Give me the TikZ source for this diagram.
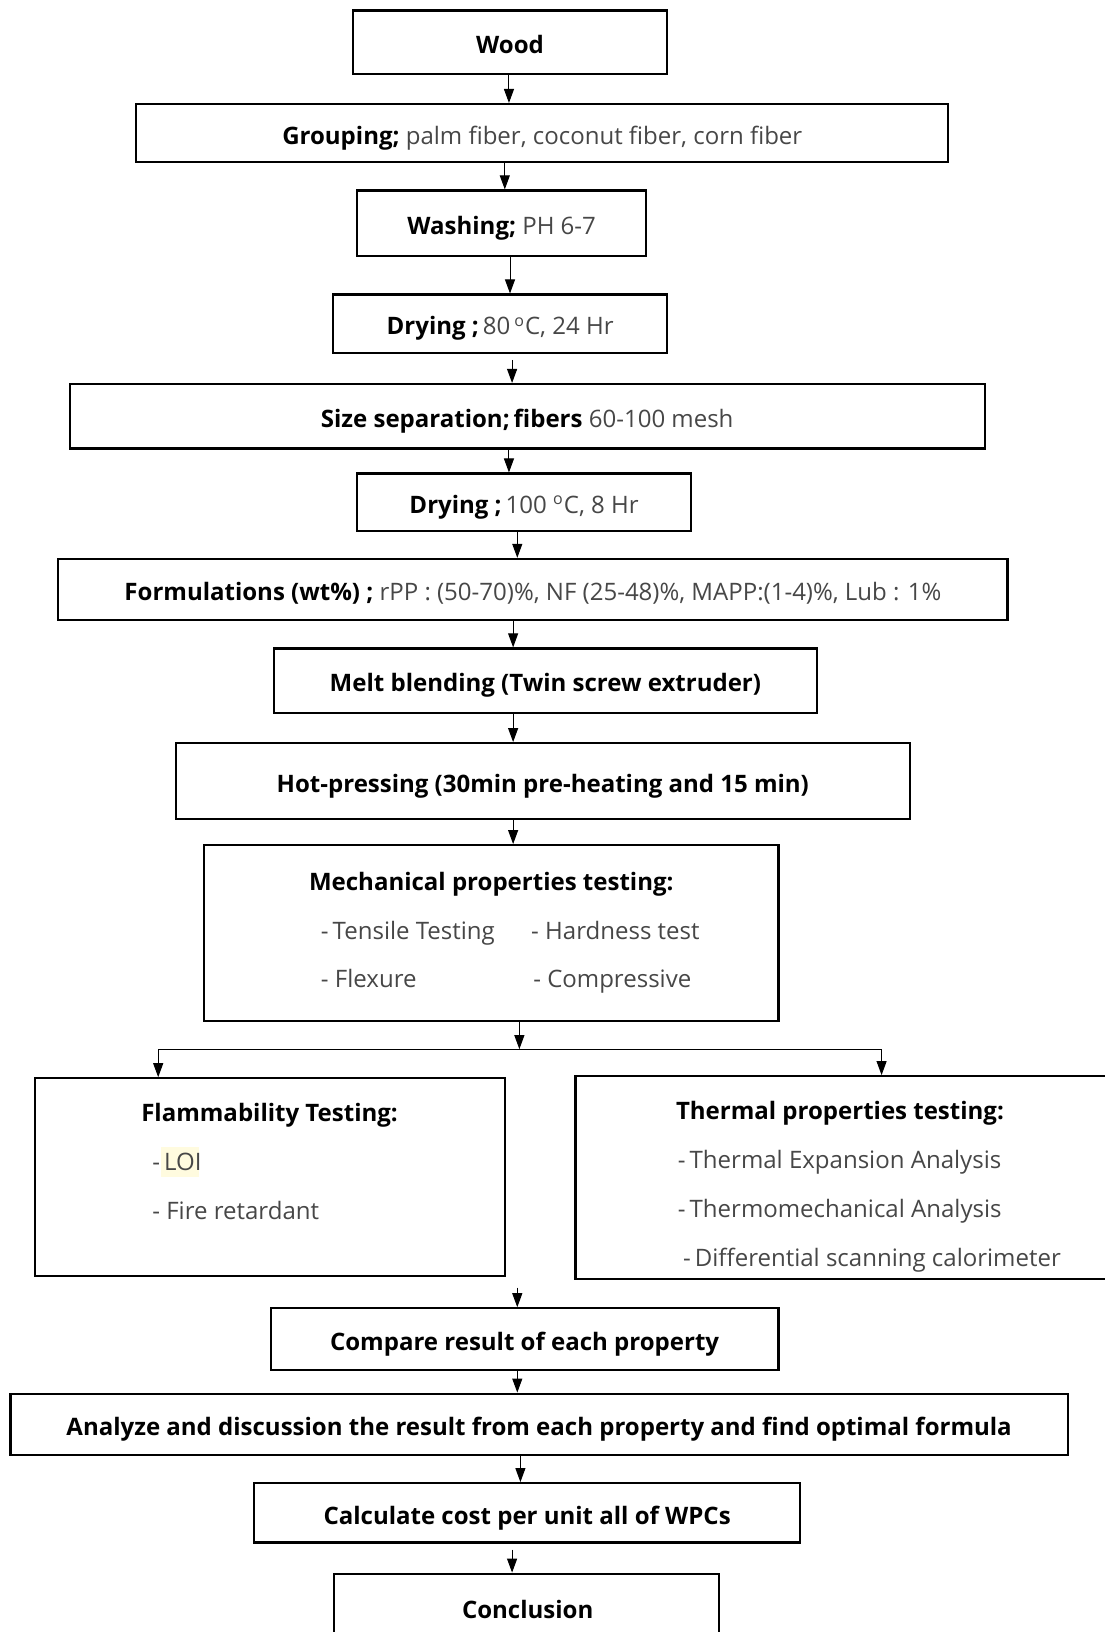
\documentclass[tikz,border=0pt]{standalone}
\usepackage{fontspec}
\setmainfont{Open Sans}
\usetikzlibrary{arrows.meta}
\definecolor{txtgray}{HTML}{474747}
\definecolor{loiyellow}{HTML}{FFFBDF}
\newcommand{\bx}[6][]{%
  \node[box,#1,minimum width={(#4-#2)*0.52pt},minimum height={(#6-#3)*0.52pt}]
    (#5) at ({(#2+#4)/2},{(#3+#6)/2})}
\begin{document}
\begin{tikzpicture}[x=0.52pt,y=-0.52pt,
  txt/.style={font=\fontsize{12}{14}\selectfont,text height=10.6pt,text depth=1.4pt},
  box/.style={draw=black,line width=1.1pt,inner sep=0pt,align=center,
    font=\fontsize{12}{14}\selectfont,text height=12.6pt,text depth=1.4pt,text=txtgray},
  lbl/.style={inner sep=0pt,txt,text=txtgray},
  hd/.style={inner sep=0pt,txt,text=black,font=\fontsize{12}{14}\selectfont\bfseries},
  arr/.style={line width=0.5pt,-{Triangle[length=7pt,width=5pt]}}]
\useasboundingbox (0,0) rectangle (1061,1568);
\fill[white] (0,0) rectangle (1061,1568);
% boxes: \bx{x1}{y1}{x2}{name}{y2}
\bx{339}{10}{641}{wood}{71} {\textbf{\color{black}Wood}};
\bx{131}{100}{911}{group}{156} {\textbf{\color{black}Grouping;} palm fiber, coconut fiber, corn fiber};
\bx{343}{183}{621}{wash}{246} {\textbf{\color{black}Washing;} PH 6-7};
\bx{320}{283}{641}{dry1}{339} {\textbf{\color{black}Drying ;}\,80\,\textsuperscript{o}C, 24 Hr};
\bx{67}{369}{946}{size}{431} {\textbf{\color{black}Size separation;\,fibers} 60-100 mesh};
\bx{343}{455}{664}{dry2}{510} {\textbf{\color{black}Drying ;}\,100 \textsuperscript{o}C, 8 Hr};
\bx{56}{537}{968}{form}{596} {\textbf{\color{black}Formulations (wt\%) ;} rPP : (50-70)\%, NF (25-48)\%, MAPP:(1-4)\%, Lub : 1\%};
\bx{263}{623}{785}{melt}{685} {\textbf{\color{black}Melt blending (Twin screw extruder)}};
\bx{169}{714}{874}{hot}{787} {\textbf{\color{black}Hot-pressing (30min pre-heating and 15 min)}};
\bx{196}{812}{748}{mech}{981} {};
\bx{34}{1036}{485}{flam}{1226} {};
\bx{553}{1034}{1075}{therm}{1229} {};
\bx{260}{1257}{748}{comp}{1316} {\textbf{\color{black}Compare result of each property}};
\bx{10}{1339}{1026}{anal}{1398} {\textbf{\color{black}Analyze and discussion the result from each property and find optimal formula}};
\bx{244}{1425}{769}{calc}{1482} {\textbf{\color{black}Calculate cost per unit all of WPCs}};
\bx{321}{1512}{691}{concl}{1580} {};
\node[hd] (conclt) at (507,1546) {Conclusion};
% mechanical texts
\node[hd] (mecht) at (472,847) {Mechanical properties testing:};
\node[lbl,anchor=west] (m1) at (308,894) {-\,Tensile Testing};
\node[lbl,anchor=west] (m2) at (510,894) {- Hardness test};
\node[lbl,anchor=west] (m3) at (308,940) {- Flexure};
\node[lbl,anchor=west] (m4) at (512,940) {- Compressive};
% flammability texts
\node[hd] (flamt) at (259,1069) {Flammability Testing:};
\fill[loiyellow] (155,1102) rectangle (191,1131);
\node[lbl,anchor=west] (f1) at (146,1116) {-\,LOI};
\node[lbl,anchor=west] (f2) at (146,1163) {- Fire retardant};
% thermal texts
\node[hd] (thermt) at (807,1067) {Thermal properties testing:};
\node[lbl,anchor=west] (t1) at (651,1114) {-\,Thermal Expansion Analysis};
\node[lbl,anchor=west] (t2) at (651,1161) {-\,Thermomechanical Analysis};
\node[lbl,anchor=west] (t3) at (656,1208) {-\,Differential scanning calorimeter};
% column coordinates
\coordinate (c489) at (489,0);
\coordinate (c485) at (485,0);
\coordinate (c490) at (490,0);
\coordinate (c492) at (492,0);
\coordinate (c497) at (497,0);
\coordinate (c493) at (493,0);
\coordinate (c499) at (499,0);
\coordinate (c500) at (500,0);
\coordinate (split) at (499,1008);
\coordinate (sl) at (152,1008);
\coordinate (sr) at (847,1008);
\coordinate (join) at (497,1237);
% arrows
\draw[arr] (wood.south -| c489) -- (group.north -| c489);
\draw[arr] (group.south -| c485) -- (wash.north -| c485);
\draw[arr] (wash.south -| c490) -- (dry1.north -| c490);
\draw[arr] ([yshift=-3pt]dry1.south -| c492) -- (size.north -| c492);
\draw[arr] (size.south -| c489) -- (dry2.north -| c489);
\draw[arr] (dry2.south -| c497) -- (form.north -| c497);
\draw[arr] (form.south -| c493) -- (melt.north -| c493);
\draw[arr] (melt.south -| c493) -- (hot.north -| c493);
\draw[arr] (hot.south -| c493) -- (mech.north -| c493);
\draw[arr] (mech.south -| c499) -- (split);
\draw[line width=0.5pt] (sl) -- (sr);
\draw[arr] (sl) -- (flam.north -| sl);
\draw[arr] (sr) -- (therm.north -| sr);
\draw[arr] (join) -- (comp.north -| join);
\draw[arr] (comp.south -| c497) -- (anal.north -| c497);
\draw[arr] (anal.south -| c500) -- (calc.north -| c500);
\draw[arr] ([yshift=-3pt]calc.south -| c492) -- (concl.north -| c492);
\end{tikzpicture}
\end{document}
